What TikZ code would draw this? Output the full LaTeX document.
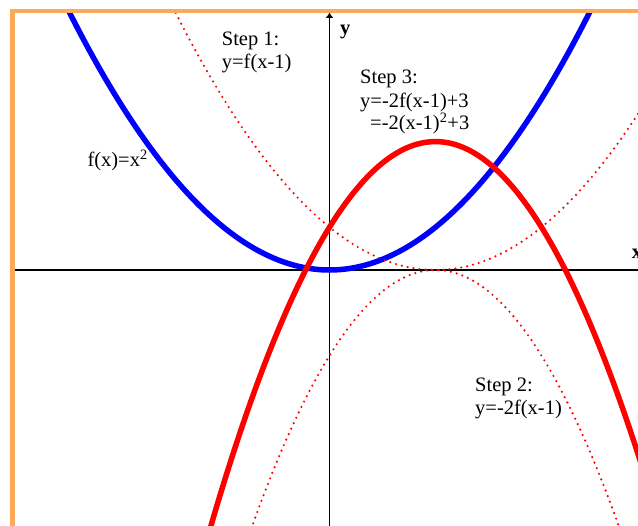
\documentclass[tikz,border=0pt]{standalone}
\usepackage{fontspec}
\setmainfont{Liberation Serif}
\usetikzlibrary{arrows.meta}
\definecolor{frameorange}{RGB}{252,170,90}
\begin{document}
\begin{tikzpicture}[x=1pt,y=-1pt,
  solidcurve/.style={line width=5.5pt},
  dotcurve/.style={red, line width=2.4pt, line cap=round, dash pattern=on 0pt off 6pt},
  lbl/.style={anchor=base west, inner sep=0pt, font=\fontsize{20.5}{24}\selectfont},
  axisline/.style={line width=1.3pt, black}]
\useasboundingbox (0,0) rectangle (638,526);
\fill[white] (0,0) rectangle (638,526);
% axes
\coordinate (xl) at (14,270);
\coordinate (xr) at (640,270);
\coordinate (yb) at (329.5,528);
\coordinate (yt) at (329.5,12.5);
\draw[axisline] (xl) -- (xr);
\draw[axisline, -{Latex[length=5.5pt,width=8pt]}] (yb) -- (yt);
% curves
\begin{scope}
\clip (14,13) rectangle (638,526);
\begin{scope}[shift={(329.5,270)}, x=106pt, y=42.8pt]
 \draw[solidcurve, blue] plot[domain=-3.2:3.1, samples=200, smooth] (\x,{(\x)^2});
 \draw[dotcurve] plot[domain=-1.6:3.1, samples=200, smooth] (\x,{(\x-1)^2});
 \draw[dotcurve] plot[domain=-0.85:2.85, samples=200, smooth] (\x,{-2*(\x-1)^2});
 \draw[solidcurve, red] plot[domain=-1.25:3.25, samples=200, smooth] (\x,{-2*(\x-1)^2+3});
\end{scope}
\end{scope}
% frame
\draw[frameorange, line width=4.5pt] (12.5,700) -- (12.5,11) -- (700,11);
% labels
\node[lbl, font=\fontsize{20.5}{24}\selectfont\bfseries] (ylab) at (340,34.5) {y};
\node[lbl, font=\fontsize{20.5}{24}\selectfont\bfseries] (xlab) at (631.7,258.3) {x};
\node[lbl] (s1a) at (221.7,45.7) {Step 1:};
\node[lbl] (s1b) at (221.7,68.3) {y=f(x-1)};
\node[lbl] (s3a) at (360,84) {Step 3:};
\node[lbl] (s3b) at (360,107.3) {y=-2f(x-1)+3};
\node[lbl] (s3c) at (370,129.8) {=-2(x-1)\textsuperscript{2}+3};
\node[lbl] (fx) at (87.3,166.7) {f(x)=x\textsuperscript{2}};
\node[lbl] (s2a) at (475,391.7) {Step 2:};
\node[lbl] (s2b) at (475,415) {y=-2f(x-1)};
\end{tikzpicture}
\end{document}
